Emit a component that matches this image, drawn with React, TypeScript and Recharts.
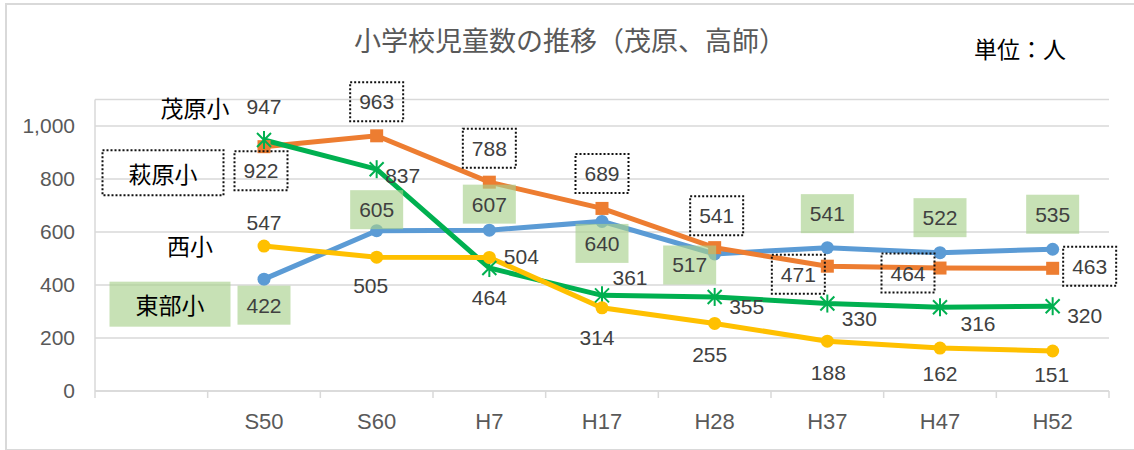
import { LineChart, Line, XAxis, YAxis, CartesianGrid, LabelList } from "recharts"

// 小学校児童数 (人)
const categories = ["", "S50", "S60", "H7", "H17", "H28", "H37", "H47", "H52"]
const tobu = [null, 422, 605, 607, 640, 517, 541, 522, 535] // 東部小
const hagiwara = [null, 922, 963, 788, 689, 541, 471, 464, 463] // 萩原小
const mobara = [null, 947, 837, 464, 361, 355, 330, 316, 320] // 茂原小
const nishi = [null, 547, 505, 504, 314, 255, 188, 162, 151] // 西小
const yTicks = [0, 200, 400, 600, 800, 1000]

const data = categories.map((cat, i) => ({
  cat,
  tobu: tobu[i],
  hagiwara: hagiwara[i],
  mobara: mobara[i],
  nishi: nishi[i],
}))

// label offsets from each point (px)
const tobuPos = [null, [0, 26], [0, -21], [0, -26], [0, 22], [-25, 11], [0, -34], [0, -35], [0, -35]]
const hagiPos = [null, [-3, 24], [0, -34], [0, -34], [0, -35], [2, -32], [-29, 8], [-32, 5], [37, -2]]
const mobaraPos = [null, [0, -34], [26, 6], [0, 29], [28, -18], [32, 10], [32, 15], [38, 16], [32, 9]]
const nishiPos = [null, [0, -24], [-6, 28], [32, -1], [-5, 30], [-5, 31], [1, 31], [0, 25], [-1, 24]]

const BLUE = "#5B9BD5"
const ORANGE = "#ED7D31"
const GREEN = "#00B050"
const YELLOW = "#FFC000"
const GRID = "#d9d9d9"
const NUM_FONT = "'Liberation Sans', 'Noto Sans CJK JP', sans-serif"
const JP_FONT = "'Noto Sans CJK JP', sans-serif"
const STEP = 1014 / 9

function makeLabel(pos: any[], box: "green" | "dotted" | null, name: string, namePos: number[], nameBox: boolean) {
  return (props: any) => {
    const { x, y, value, index } = props
    if (value == null || x == null || y == null || !pos[index]) return <g key={index} />
    const [dx, dy] = pos[index]
    const cx = x + dx
    const cy = y + dy
    return (
      <g key={index}>
        {box === "green" && <rect x={cx - 26.5} y={cy - 19.5} width={53} height={39} fill="rgba(169,209,142,0.65)" />}
        {box === "dotted" && (
          <rect x={cx - 26.5} y={cy - 19.5} width={53} height={39} fill="none" stroke="#111" strokeWidth={2} strokeDasharray="2 2" />
        )}
        <text x={cx} y={cy} textAnchor="middle" dominantBaseline="central" fontSize={21} fill="#404040" fontFamily={NUM_FONT}>
          {value}
        </text>
        {index === 1 && (
          <g>
            {nameBox && box === "green" && (
              <rect x={x + namePos[0] - 60.5} y={y + namePos[1] - 22.5} width={121} height={45} fill="rgba(169,209,142,0.65)" />
            )}
            {nameBox && box === "dotted" && (
              <rect
                x={x + namePos[0] - 60.5}
                y={y + namePos[1] - 22.5}
                width={121}
                height={45}
                fill="none"
                stroke="#111"
                strokeWidth={2}
                strokeDasharray="2 2"
              />
            )}
            <text
              x={x + namePos[0]}
              y={y + namePos[1]}
              textAnchor="middle"
              dominantBaseline="central"
              fontSize={23}
              fill="#000"
              fontFamily={JP_FONT}
            >
              {name}
            </text>
          </g>
        )}
      </g>
    )
  }
}

const circleDot = (color: string) => (p: any) =>
  p.cx == null || p.cy == null || p.value == null ? (
    <g key={p.index} />
  ) : (
    <circle key={p.index} cx={p.cx} cy={p.cy} r={6.5} fill={color} />
  )

const squareDot = (color: string) => (p: any) =>
  p.cx == null || p.cy == null || p.value == null ? (
    <g key={p.index} />
  ) : (
    <rect key={p.index} x={p.cx - 6.5} y={p.cy - 6.5} width={13} height={13} fill={color} />
  )

const starDot = (color: string) => (p: any) =>
  p.cx == null || p.cy == null || p.value == null ? (
    <g key={p.index} />
  ) : (
    <g key={p.index} stroke={color} strokeWidth={2}>
      <line x1={p.cx - 7} y1={p.cy - 7} x2={p.cx + 7} y2={p.cy + 7} />
      <line x1={p.cx - 7} y1={p.cy + 7} x2={p.cx + 7} y2={p.cy - 7} />
      <line x1={p.cx} y1={p.cy - 9} x2={p.cx} y2={p.cy + 9} />
    </g>
  )

function XTick(props: any) {
  const { x, y, payload, index, visibleTicksCount } = props
  return (
    <g>
      <line x1={x - STEP / 2} x2={x - STEP / 2} y1={y} y2={y + 7} stroke={GRID} strokeWidth={1.5} />
      {index === visibleTicksCount - 1 && (
        <line x1={x + STEP / 2} x2={x + STEP / 2} y1={y} y2={y + 7} stroke={GRID} strokeWidth={1.5} />
      )}
      <text x={x} y={y + 30} textAnchor="middle" dominantBaseline="central" fontSize={22} fill="#595959" fontFamily={NUM_FONT}>
        {payload.value}
      </text>
    </g>
  )
}

export default function App() {
  return (
    <div style={{ position: "relative", width: 1134, height: 450, overflow: "hidden", background: "#fff" }}>
      <style>{`body{margin:0}`}</style>
      <div
        style={{
          position: "absolute",
          left: 5,
          top: 3,
          width: 1160,
          height: 444,
          border: `2px solid ${GRID}`,
        }}
      />
      <div
        style={{
          position: "absolute",
          left: 0,
          width: 1140,
          top: 24,
          textAlign: "center",
          fontSize: 27,
          color: "#595959",
          fontFamily: JP_FONT,
          lineHeight: "32px",
        }}
      >
        小学校児童数の推移（茂原、高師）
      </div>
      <div
        style={{
          position: "absolute",
          left: 974,
          top: 34,
          fontSize: 23,
          color: "#000",
          fontFamily: JP_FONT,
          lineHeight: "28px",
        }}
      >
        単位：人
      </div>
      <div style={{ position: "absolute", left: 0, top: 0 }}>
        <LineChart width={1134} height={450} data={data} margin={{ top: 99.5, right: 25, bottom: 29, left: 15 }}>
          <CartesianGrid vertical={false} stroke={GRID} strokeWidth={1.5} />
          <XAxis
            dataKey="cat"
            height={30}
            interval={0}
            padding={{ left: STEP / 2, right: STEP / 2 }}
            axisLine={{ stroke: GRID, strokeWidth: 1.5 }}
            tickLine={false}
            tickSize={0}
            tickMargin={0}
            tick={<XTick />}
          />
          <YAxis
            width={80}
            domain={[0, 1100]}
            ticks={yTicks}
            tickFormatter={(v) => v.toLocaleString("en-US")}
            axisLine={{ stroke: GRID, strokeWidth: 1.5 }}
            tickLine={false}
            tickSize={0}
            tickMargin={20}
            tick={{ fontSize: 21, fill: "#595959", fontFamily: NUM_FONT }}
          />
          <Line dataKey="tobu" stroke={BLUE} strokeWidth={5} dot={circleDot(BLUE)} activeDot={false} isAnimationActive={false} />
          <Line dataKey="hagiwara" stroke={ORANGE} strokeWidth={5} dot={squareDot(ORANGE)} activeDot={false} isAnimationActive={false} />
          <Line dataKey="mobara" stroke={GREEN} strokeWidth={5} dot={starDot(GREEN)} activeDot={false} isAnimationActive={false} />
          <Line dataKey="nishi" stroke={YELLOW} strokeWidth={5} dot={circleDot(YELLOW)} activeDot={false} isAnimationActive={false} />

          {/* label layers on top of all lines */}
          <Line dataKey="tobu" stroke="none" dot={false} activeDot={false} isAnimationActive={false}>
            <LabelList dataKey="tobu" content={makeLabel(tobuPos, "green", "東部小", [-94, 25], true)} />
          </Line>
          <Line dataKey="hagiwara" stroke="none" dot={false} activeDot={false} isAnimationActive={false}>
            <LabelList dataKey="hagiwara" content={makeLabel(hagiPos, "dotted", "萩原小", [-101, 26], true)} />
          </Line>
          <Line dataKey="mobara" stroke="none" dot={false} activeDot={false} isAnimationActive={false}>
            <LabelList dataKey="mobara" content={makeLabel(mobaraPos, null, "茂原小", [-69, -33], false)} />
          </Line>
          <Line dataKey="nishi" stroke="none" dot={false} activeDot={false} isAnimationActive={false}>
            <LabelList dataKey="nishi" content={makeLabel(nishiPos, null, "西小", [-74, -1], false)} />
          </Line>
        </LineChart>
      </div>
    </div>
  )
}
